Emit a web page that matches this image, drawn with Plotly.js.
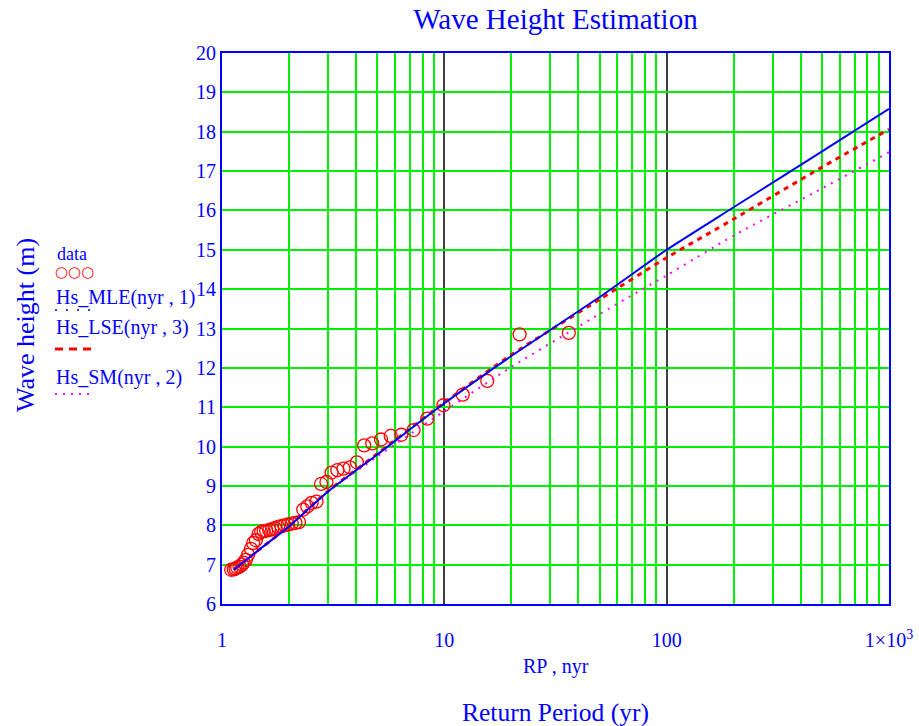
<!DOCTYPE html>
<html>
<head>
<meta charset="utf-8">
<script src="https://cdn.plot.ly/plotly-3.0.1.min.js"></script>
<style>
html,body{margin:0;padding:0;background:#fff;}
#chart{width:919px;height:726px;}
</style>
</head>
<body>
<div id="chart"></div>
<script>
// ---- data ----
var dataRP = [36.3, 21.8, 15.6, 12.1, 9.91, 8.38, 7.27, 6.41, 5.74, 5.19,
  4.74, 4.36, 4.04, 3.76, 3.52, 3.30, 3.11, 2.95, 2.79, 2.66,
  2.53, 2.42, 2.32, 2.22, 2.14, 2.06, 1.98, 1.91, 1.85, 1.79,
  1.73, 1.68, 1.63, 1.58, 1.54, 1.50, 1.46, 1.42, 1.38, 1.35,
  1.31, 1.28, 1.25, 1.23, 1.20, 1.17, 1.15, 1.13, 1.10];
var dataHs = [12.89, 12.85, 11.67, 11.32, 11.05, 10.71, 10.42, 10.30, 10.27, 10.18,
  10.08, 10.03, 9.60, 9.47, 9.44, 9.40, 9.34, 9.10, 9.05, 8.60,
  8.57, 8.48, 8.40, 8.08, 8.06, 8.04, 8.02, 8.00, 7.98, 7.96,
  7.93, 7.90, 7.88, 7.86, 7.85, 7.83, 7.78, 7.62, 7.55, 7.40,
  7.25, 7.12, 7.05, 7.00, 6.95, 6.93, 6.90, 6.88, 6.87];

var nyr = [1.13, 1.5, 2, 3, 5, 10, 20, 50, 100, 200, 500, 1000];
var hsMLE = [6.87, 7.42, 7.97, 8.86, 9.80, 11.10, 12.30, 13.80, 15.00, 16.08, 17.50, 18.58];
var hsLSE = [6.87, 7.42, 7.98, 8.87, 9.82, 11.12, 12.33, 13.74, 14.80, 15.78, 17.10, 18.06];
var hsSM  = [6.90, 7.42, 7.98, 8.85, 9.75, 10.90, 12.02, 13.37, 14.35, 15.36, 16.56, 17.48];

var xTickVals = [1, 10, 100, 1000];
var xTickText = ['1', '10', '100', '1\u00d710<sup>3</sup>'];
var xMinorVals = [2,3,4,5,6,7,8,9,20,30,40,50,60,70,80,90,200,300,400,500,600,700,800,900];
var yTickVals = [6,7,8,9,10,11,12,13,14,15,16,17,18,19,20];

var legendNames = ['data', 'Hs_MLE(nyr , 1)', 'Hs_LSE(nyr , 3)', 'Hs_SM(nyr , 2)'];

// ---- layout helpers ----
var W = 919, H = 726, L = 222, R = 30, T = 53, B = 122;
var PW = W - L - R, PH = H - T - B;
function px(x){ return (x - L) / PW; }
function py(y){ return (H - B - y) / PH; }

var serif = 'Liberation Serif, Times New Roman, serif';
var blue = '#0000ff';
var green = 'rgb(0,240,0)';

var traces = [
  {x: dataRP, y: dataHs, type: 'scatter', mode: 'markers', name: legendNames[0],
   marker: {symbol: 'circle-open', size: 13, color: '#ff0000', line: {width: 1.3, color: '#ff0000'}}},
  {x: nyr, y: hsSM, type: 'scatter', mode: 'lines', name: legendNames[3],
   line: {color: '#ff00ff', width: 2, dash: '2px,6px', shape: 'spline', smoothing: 0.6}},
  {x: nyr, y: hsLSE, type: 'scatter', mode: 'lines', name: legendNames[2],
   line: {color: '#ff0000', width: 3, dash: '5px,5px', shape: 'spline', smoothing: 0.6}},
  {x: nyr, y: hsMLE, type: 'scatter', mode: 'lines', name: legendNames[1],
   line: {color: blue, width: 2, shape: 'spline', smoothing: 0.6}}
];

var annFont = {family: serif, color: blue};
var annotations = [
  {text: 'Wave height (m)', xref: 'paper', yref: 'paper', x: px(25), y: py(325), textangle: -90,
   showarrow: false, xanchor: 'center', yanchor: 'middle', font: Object.assign({size: 26}, annFont)},
  {text: 'RP , nyr', xref: 'paper', yref: 'paper', x: 0.5, y: py(666),
   showarrow: false, xanchor: 'center', yanchor: 'middle', font: Object.assign({size: 20}, annFont)},
  {text: 'Return Period (yr)', xref: 'paper', yref: 'paper', x: 0.5, y: py(712),
   showarrow: false, xanchor: 'center', yanchor: 'middle', font: Object.assign({size: 25.5}, annFont)},
  {text: legendNames[0], xref: 'paper', yref: 'paper', x: px(55), y: py(254),
   showarrow: false, xanchor: 'left', yanchor: 'middle', font: Object.assign({size: 18}, annFont)},
  {text: '\u25cb\u25cb\u25cb', xref: 'paper', yref: 'paper', x: px(53), y: py(272),
   showarrow: false, xanchor: 'left', yanchor: 'middle', font: {family: 'DejaVu Sans', size: 15, color: '#ff0000'}},
  {text: legendNames[1], xref: 'paper', yref: 'paper', x: px(54), y: py(297),
   showarrow: false, xanchor: 'left', yanchor: 'middle', font: Object.assign({size: 20}, annFont)},
  {text: legendNames[2], xref: 'paper', yref: 'paper', x: px(54), y: py(327),
   showarrow: false, xanchor: 'left', yanchor: 'middle', font: Object.assign({size: 20}, annFont)},
  {text: legendNames[3], xref: 'paper', yref: 'paper', x: px(54), y: py(377),
   showarrow: false, xanchor: 'left', yanchor: 'middle', font: Object.assign({size: 20}, annFont)}
];

var shapes = [
  {type: 'line', xref: 'paper', yref: 'paper', x0: px(55), x1: px(95), y0: py(310), y1: py(310),
   line: {color: blue, width: 1.5, dash: '2px,9px'}},
  {type: 'line', xref: 'paper', yref: 'paper', x0: px(55), x1: px(97), y0: py(349), y1: py(349),
   line: {color: '#ff0000', width: 3, dash: '8px,6px'}},
  {type: 'line', xref: 'paper', yref: 'paper', x0: px(55), x1: px(90), y0: py(394), y1: py(394),
   line: {color: '#ff00ff', width: 2, dash: '2px,6px'}}
];

var layout = {
  width: W, height: H,
  margin: {l: L, r: R, t: T, b: B},
  paper_bgcolor: '#fff', plot_bgcolor: '#fff',
  showlegend: false,
  title: {text: 'Wave Height Estimation', x: 0.5, xref: 'paper', xanchor: 'center',
          y: 1 - 19 / H, yanchor: 'middle', font: {family: serif, size: 29, color: blue}},
  xaxis: {
    type: 'log', range: [0, 3],
    tickmode: 'array', tickvals: xTickVals, ticktext: xTickText,
    ticks: 'outside', ticklen: 17, tickcolor: 'rgba(0,0,0,0)',
    tickfont: {family: serif, size: 20, color: blue},
    showgrid: true, gridcolor: '#404040', gridwidth: 2,
    minor: {tickmode: 'array', tickvals: xMinorVals, showgrid: true, gridcolor: green, gridwidth: 2, ticks: ''},
    showline: true, linecolor: blue, linewidth: 2, mirror: true,
    zeroline: false, fixedrange: true
  },
  yaxis: {
    range: [6, 20],
    tickmode: 'array', tickvals: yTickVals,
    ticks: '', ticklabelstandoff: 0,
    tickfont: {family: serif, size: 20, color: blue},
    showgrid: true, gridcolor: green, gridwidth: 2,
    showline: true, linecolor: blue, linewidth: 2, mirror: true,
    zeroline: false, fixedrange: true
  },
  annotations: annotations,
  shapes: shapes
};

Plotly.newPlot('chart', traces, layout, {displayModeBar: false, staticPlot: true});
</script>
</body>
</html>
